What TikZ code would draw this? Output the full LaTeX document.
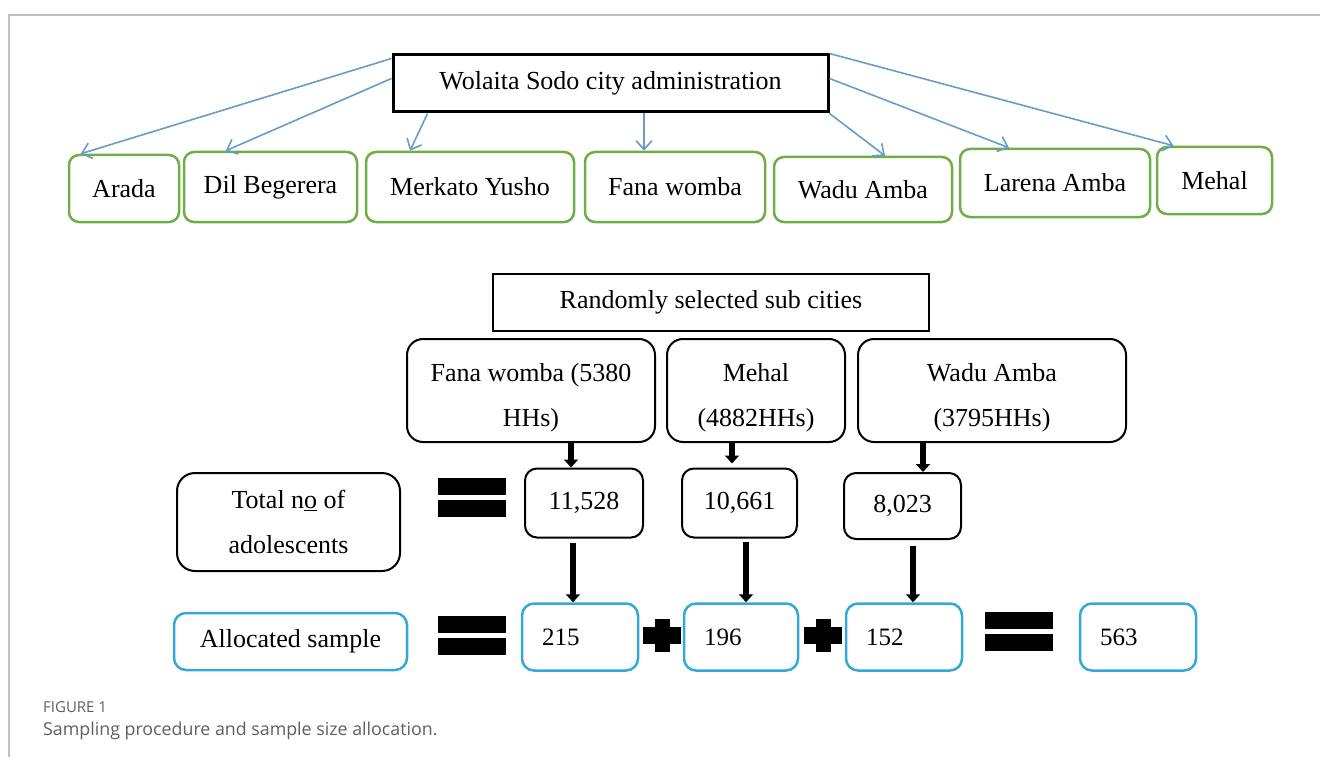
\documentclass[tikz,border=0pt]{standalone}
\usepackage{fontspec}
\setmainfont{Liberation Serif}
\newfontfamily\capfont{Open Sans}
\usetikzlibrary{arrows.meta}
\definecolor{wardgreen}{RGB}{112,173,71}
\definecolor{allocblue}{RGB}{52,168,214}
\definecolor{linkblue}{RGB}{104,156,204}
\definecolor{framegray}{RGB}{192,192,192}
\definecolor{capgray}{RGB}{95,95,95}
\newcommand\lift{\rule{0pt}{33pt}}

\begin{document}
\begin{tikzpicture}[x=1pt,y=-1pt,
  every node/.style={font=\fontsize{26}{45}\selectfont,inner sep=0pt},
  city/.style={draw,line width=3pt,minimum height=57pt},
  ward/.style={draw=wardgreen,line width=2.5pt,rounded corners=10pt},
  sub/.style={draw,line width=2pt,rounded corners=16pt,minimum height=103pt,align=center},
  count/.style={draw,line width=2pt,rounded corners=12pt,minimum height=69pt},
  alloc/.style={draw=allocblue,line width=2.5pt,rounded corners=12pt,minimum height=67pt},
  num/.style={alloc,text width=76pt,align=left,inner xsep=20pt,font=\fontsize{25}{30}\selectfont},
  link/.style={linkblue,line width=1.6pt,-{Straight Barb[length=9pt,width=16pt]}},
  down/.style={line width=5.5pt,-{Triangle[length=8pt,width=14pt]}}]
  \useasboundingbox (0,0) rectangle (1320,757);
  \draw[framegray,line width=1.5pt] (9,757) -- (9,15) -- (1320,15);

  \node[city,minimum width=435pt] (city) at (610.5,83.5) {Wolaita Sodo city administration};
  \foreach \name/\x/\y/\w/\h/\txt in {arada/124/188.5/110/67/Arada,
      dil/270.5/187/173/70/Dil Begerera, merkato/470/187/208/70/Merkato Yusho,
      fana/675/187/180/70/Fana womba, wadu/863/189.5/178/65/Wadu Amba,
      larena/1055/183/190/68/Larena Amba, mehal/1214.5/180.5/115/67/Mehal}
    \node[ward,minimum width=\w pt,minimum height=\h pt] (\name) at (\x,\y) {\txt};

  \draw[link] ([yshift=-5pt]city.north west) -- ([xshift=13pt]arada.north west);
  \draw[link] ([yshift=-25pt]city.north west) -- ([xshift=43pt]dil.north west);
  \draw[link] ([xshift=36pt]city.south west) -- ([xshift=-60pt]merkato.north);
  \draw[link] ([xshift=33.5pt]city.south) -- ([xshift=-31pt]fana.north);
  \draw[link] (city.south east) -- ([xshift=22pt]wadu.north);
  \draw[link] ([yshift=-25pt]city.north east) -- ([xshift=-46pt]larena.north);
  \draw[link] (city.north east) -- ([xshift=-41pt]mehal.north);

  \node[draw,line width=2pt,minimum width=436pt,minimum height=57pt] (random) at (711,302) {Randomly selected sub cities};
  \node[sub,minimum width=248pt] (fana2) at (531,390.5) {\lift Fana womba (5380\\HHs)};
  \node[sub,minimum width=178pt] (mehal2) at (756,390.5) {\lift Mehal\\(4882HHs)};
  \node[sub,minimum width=268pt] (wadu2) at (992,390.5) {\lift Wadu Amba\\(3795HHs)};

  \node[count,minimum width=223pt,minimum height=98pt,align=center,rounded corners=18pt] (total) at (288.5,522) {Total n\underline{o} of\\adolescents};
  \node[count,minimum width=118pt] (n1) at (584,503) {11,528};
  \node[count,minimum width=115pt] (n2) at (739.5,503) {10,661};
  \node[count,minimum width=117pt,minimum height=66pt] (n3) at (902.5,506) {8,023};

  \node[alloc,minimum width=233pt,minimum height=57pt] (sample) at (290.5,641.5) {Allocated sample};
  \node[num] (a1) at (580,637) {215};
  \node[num,text width=74pt] (a2) at (741,637) {196};
  \node[num] (a3) at (904,637) {152};
  \node[num] (sum) at (1138,637) {563};

  \foreach \x/\y in {438/478,438/616,985/612}{
    \fill (\x,\y) rectangle ++(68,17);
    \fill (\x,\y+22) rectangle ++(68,17);}
  \foreach \x in {662,823}{
    \fill (\x-7.5,619) rectangle ++(15,33);
    \fill (\x-19,627) rectangle ++(38,17);}

  \draw[down] ([xshift=40pt]fana2.south) -- ([xshift=-13pt]n1.north);
  \draw[down,shorten >=4pt] ([xshift=-24pt]mehal2.south) -- ([xshift=-7.5pt]n2.north);
  \draw[down] ([xshift=-69pt]wadu2.south) -- ([xshift=20.5pt]n3.north);
  \draw[down,shorten <=4pt] ([xshift=-11pt]n1.south) -- ([xshift=-7pt]a1.north);
  \draw[down,shorten <=3pt] ([xshift=6.5pt]n2.south) -- ([xshift=5pt]a2.north);
  \draw[down,shorten <=6pt] ([xshift=10.5pt]n3.south) -- ([xshift=9pt]a3.north);

  \node[anchor=base west,text=capgray,font=\capfont\fontsize{15}{15}\selectfont] (figno) at (43,712) {FIGURE 1};
  \node[anchor=base west,text=capgray,font=\capfont\fontsize{17.8}{18}\selectfont] (caption) at (43,735) {Sampling procedure and sample size allocation.};
\end{tikzpicture}
\end{document}
